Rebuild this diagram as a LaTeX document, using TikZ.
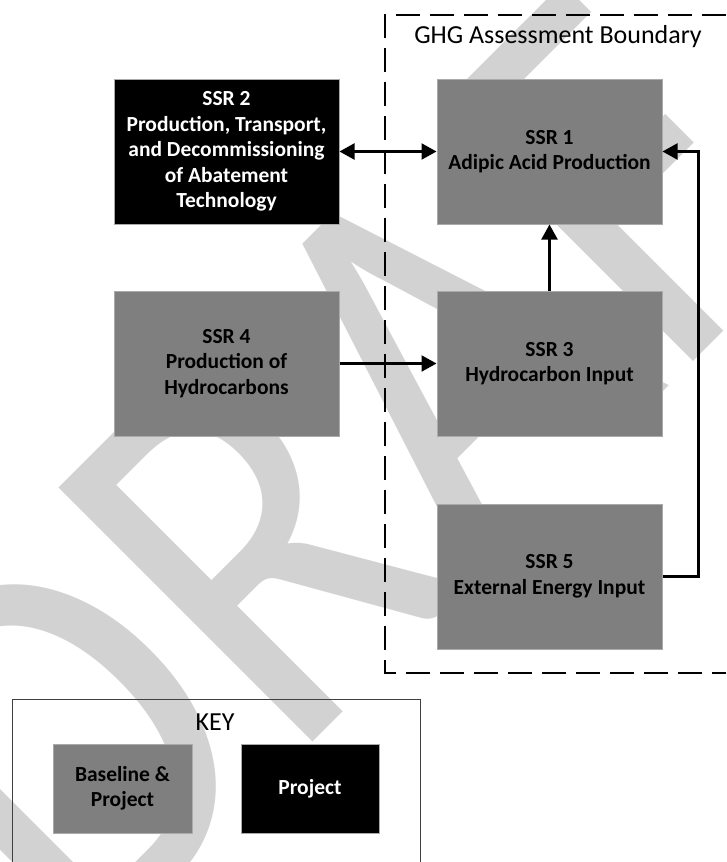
\documentclass[tikz,border=0pt]{standalone}
\usepackage{fontspec}
\setmainfont{Carlito}
\newfontfamily\wmfont[FakeStretch=0.86]{Carlito}
\usetikzlibrary{arrows.meta}
\definecolor{boxgray}{RGB}{127,127,127}
\definecolor{edgegray}{RGB}{170,170,170}
\definecolor{wmgray}{RGB}{210,210,210}
\definecolor{keyedge}{RGB}{64,64,64}
\begin{document}
\begin{tikzpicture}[x=1pt,y=1pt,
  ssrbox/.style={draw=edgegray, line width=1pt, fill=boxgray, minimum width=225pt, minimum height=145pt,
    align=center, font=\fontsize{21.5}{25.5}\selectfont\bfseries, text=black, inner sep=0pt},
  projbox/.style={ssrbox, fill=black, text=white},
  conn/.style={line width=2.2pt, -{Triangle[length=15pt,width=16pt]}},
  bound/.style={line width=2pt, dash pattern=on 24pt off 10pt},
  lbl/.style={font=\fontsize{26}{30}\selectfont, inner sep=0pt}
]
\useasboundingbox (0,0) rectangle (726,-862);
% watermark
\node[anchor=base west, inner sep=0pt, rotate=45, text=wmgray,
  font=\wmfont\fontsize{560}{560}\selectfont] (wm) at (79,-976) {DRAFT};
% boundary
\draw[bound] (726,-15) -- (385,-15) -- (385,-673) -- (726,-673);
\node[lbl] (ghg) at (558,-37) {GHG Assessment Boundary};
% boxes
\node[projbox] (ssr2) at (226.5,-151.5) {SSR 2\\Production, Transport,\\and Decommissioning\\of Abatement\\Technology};
\node[ssrbox] (ssr1) at (549.5,-151.5) {SSR 1\\Adipic Acid Production};
\node[ssrbox] (ssr4) at (226.5,-363.5) {SSR 4\\Production of\\Hydrocarbons};
\node[ssrbox] (ssr3) at (549.5,-363.5) {SSR 3\\Hydrocarbon Input};
\node[ssrbox] (ssr5) at (549.5,-576.5) {SSR 5\\External Energy Input};
% connectors
\draw[line width=2.2pt, {Triangle[length=15pt,width=16pt]}-{Triangle[length=15pt,width=16pt]}] (ssr2.east) -- (ssr1.west);
\draw[conn] (ssr3.north) -- (ssr1.south);
\draw[conn] (ssr4.east) -- (ssr3.west);
\draw[conn] (ssr5.east) -- ++(36,0) |- (ssr1.east);
% key
\draw[keyedge, line width=1pt] (12,-862) -- (12,-699) -- (420,-699) -- (420,-862);
\node[lbl] (keylbl) at (215,-722) {KEY};
\node[ssrbox, minimum width=139pt, minimum height=89pt] (kbase) at (122.5,-788.5) {Baseline \&\\Project};
\node[projbox, minimum width=138pt, minimum height=89pt] (kproj) at (310,-788.5) {Project};
\end{tikzpicture}
\end{document}
